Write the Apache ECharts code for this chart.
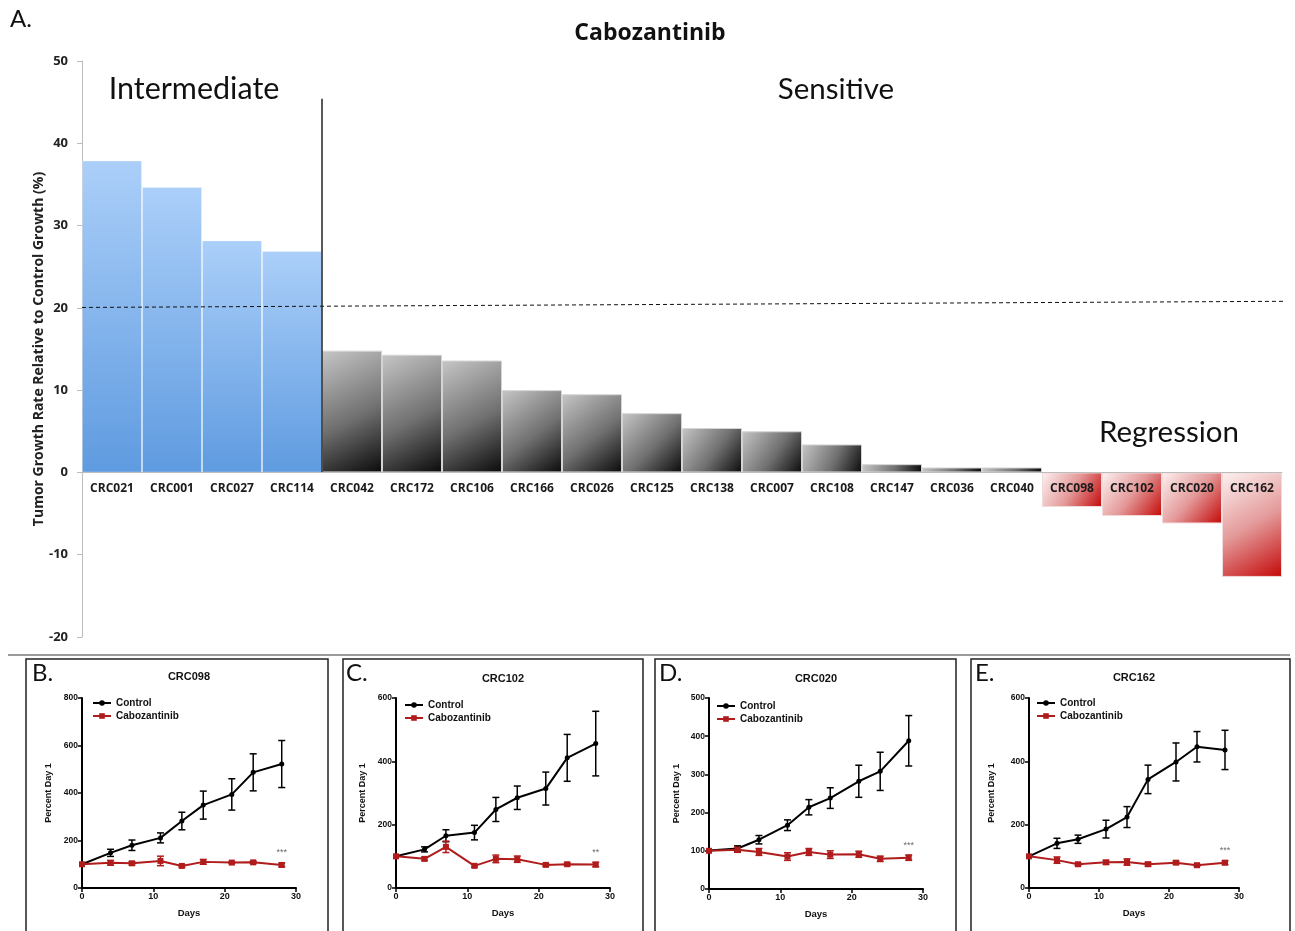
<!DOCTYPE html>
<html><head><meta charset="utf-8">
<script src="https://cdn.jsdelivr.net/npm/echarts@6/dist/echarts.min.js"></script>
<style>html,body{margin:0;padding:0;background:#fff}#c{width:1295px;height:931px}</style>
</head><body><div id="c"></div>
<script>
// ---------- main chart data ----------
const categories = ['CRC021','CRC001','CRC027','CRC114','CRC042','CRC172','CRC106','CRC166','CRC026','CRC125','CRC138','CRC007','CRC108','CRC147','CRC036','CRC040','CRC098','CRC102','CRC020','CRC162'];
const tgrValues = [37.9,34.7,28.2,26.9,14.8,14.3,13.6,10.0,9.5,7.2,5.4,5.0,3.4,1.0,0.6,0.6,-4.2,-5.3,-6.2,-12.7];
const groups = ['Intermediate','Intermediate','Intermediate','Intermediate','Sensitive','Sensitive','Sensitive','Sensitive','Sensitive','Sensitive','Sensitive','Sensitive','Sensitive','Sensitive','Sensitive','Sensitive','Regression','Regression','Regression','Regression'];
const thresholdLine = [[0,20.05],[20.13,20.8]];
const dividerLine = [[4,0],[4,45.4]];
const mainYMin = -20, mainYMax = 50, mainYInterval = 10;

// ---------- small panels data ----------
const days = [0,4,7,11,14,17,21,24,28];
const panelNames = ['CRC098','CRC102','CRC020','CRC162'];
const panelLetters = ['B.','C.','D.','E.'];
const panelYMax = [800,600,500,600];
const panelYInterval = [200,200,100,200];
const panelStars = ['***','**','***','***'];

const controlB = [100,148,180,211,282,349,394,487,522];
const controlErrB = [0,15,22,21,37,59,66,78,99];
const caboB = [100,106,104,114,93,110,107,108,97];
const caboErrB = [0,10,7,20,5,10,4,5,8];

const controlC = [100,122,165,175,248,285,314,411,456];
const controlErrC = [0,8,19,23,38,37,52,74,102];
const caboC = [100,92,130,70,92,91,73,75,74];
const caboErrC = [0,5,18,4,12,10,4,4,7];

const controlD = [101,106,129,167,214,238,282,308,388];
const controlErrD = [0,7,11,14,20,27,42,50,66];
const caboD = [100,103,97,85,97,90,91,79,82];
const caboErrD = [0,7,9,10,9,10,8,7,7];

const controlE = [100,141,154,186,224,343,398,446,436];
const controlErrE = [0,16,13,28,33,45,60,48,62];
const caboE = [100,88,75,81,82,75,80,72,80];
const caboErrE = [0,10,4,6,10,6,5,3,6];

const controls = [controlB, controlC, controlD, controlE];
const controlErrs = [controlErrB, controlErrC, controlErrD, controlErrE];
const cabos = [caboB, caboC, caboD, caboE];
const caboErrs = [caboErrB, caboErrC, caboErrD, caboErrE];

// ---------- layout ----------
const MAINF = 'Lato, "Open Sans", sans-serif';
const BOLDF = '"Open Sans", Lato, sans-serif';
const SMF = '"Liberation Sans", Arial, sans-serif';
const RED = '#b01c1c';
const MAIN_GRID = {left:82, top:61, width:1200, height:576};
const zeroOffset = -(MAIN_GRID.height * (0 - mainYMin) / (mainYMax - mainYMin));
const panelGrids = [
  {left:82, top:698, width:214, height:190, nameGap:29, box:[26,659,302,290], letterX:32, titleX:189, titleY:677, legendX:92, legendY:698},
  {left:396, top:698, width:214, height:190, nameGap:29, box:[343,659,300,290], letterX:346, titleX:503, titleY:679, legendX:404, legendY:700},
  {left:709, top:698, width:214, height:191, nameGap:28, box:[655,659,301,290], letterX:659, titleX:816, titleY:679, legendX:716, legendY:701},
  {left:1029, top:698, width:210, height:190, nameGap:33, box:[971,659,319,290], letterX:975, titleX:1134, titleY:678, legendX:1036, legendY:698}
];

function barColor(g){
  if (g === 'Intermediate') return new echarts.graphic.LinearGradient(0,0,0,1,[{offset:0,color:'#abcff9'},{offset:1,color:'#5f9be0'}]);
  if (g === 'Sensitive') return new echarts.graphic.LinearGradient(0,0,1,1,[{offset:0,color:'#c6c6c6'},{offset:0.55,color:'#707070'},{offset:1,color:'#0a0a0a'}]);
  return new echarts.graphic.LinearGradient(0,0,1,1,[{offset:0,color:'#fdf2f2'},{offset:0.5,color:'#e49a9a'},{offset:1,color:'#c40808'}]);
}
function barBorder(g){
  if (g === 'Intermediate') return 'rgba(255,255,255,0.25)';
  if (g === 'Sensitive') return '#d4d4d4';
  return '#f1dada';
}

const chart = echarts.init(document.getElementById('c'), null, {renderer:'canvas'});

const grid = [MAIN_GRID].concat(panelGrids.map(p=>({left:p.left, top:p.top, width:p.width, height:p.height})));

const xAxis = [
  {type:'category', gridIndex:0, data:categories, z:10, position:'bottom', offset:zeroOffset,
   axisLine:{onZero:false, lineStyle:{color:'#bdbdbd', width:1}}, axisTick:{show:false},
   axisLabel:{interval:0, margin:10, color:'#1a1a1a', fontWeight:'bold', fontSize:12, fontFamily:BOLDF}},
  {type:'value', gridIndex:0, min:0, max:20, show:false, axisLine:{onZero:false}}
];
const yAxis = [
  {type:'value', gridIndex:0, min:mainYMin, max:mainYMax, interval:mainYInterval,
   name:'Tumor Growth Rate Relative to Control Growth (%)', nameLocation:'middle', nameGap:36, nameMoveOverlap:false,
   nameTextStyle:{fontFamily:BOLDF, fontWeight:'bold', fontSize:14, color:'#222'},
   axisLine:{show:true, onZero:false, lineStyle:{color:'#bdbdbd', width:1}}, axisTick:{show:true, length:5, lineStyle:{color:'#bdbdbd'}},
   splitLine:{show:false},
   axisLabel:{color:'#222', fontWeight:'bold', fontSize:13, fontFamily:BOLDF, margin:14}}
];
panelGrids.forEach((p,i)=>{
  xAxis.push({type:'value', gridIndex:i+1, min:0, max:30, interval:10,
    name:'Days', nameLocation:'middle', nameGap:20,
    nameTextStyle:{fontFamily:SMF, fontWeight:'bold', fontSize:9.5, color:'#111'},
    axisLine:{show:true, onZero:false, lineStyle:{color:'#000', width:2}},
    axisTick:{show:true, length:4, lineStyle:{color:'#000', width:1.5}},
    splitLine:{show:false},
    axisLabel:{fontFamily:SMF, fontWeight:'bold', fontSize:9, color:'#111', margin:4}});
  yAxis.push({type:'value', gridIndex:i+1, min:0, max:panelYMax[i], interval:panelYInterval[i],
    name:'Percent Day 1', nameLocation:'middle', nameGap:p.nameGap,
    nameTextStyle:{fontFamily:SMF, fontWeight:'bold', fontSize:9, color:'#111'},
    axisLine:{show:true, onZero:false, lineStyle:{color:'#000', width:2}},
    axisTick:{show:true, length:4, lineStyle:{color:'#000', width:1.5}},
    splitLine:{show:false},
    axisLabel:{fontFamily:SMF, fontWeight:'bold', fontSize:8.5, color:'#111', margin:4}});
});

function errRender(color){
  return function(params, api){
    const x = api.value(0), y = api.value(1), e = api.value(2);
    if (!e) return null;
    const t = api.coord([x, y+e]), b = api.coord([x, y-e]);
    const hw = 3.5;
    const st = {stroke:color, lineWidth:1.5};
    return {type:'group', children:[
      {type:'line', shape:{x1:t[0], y1:t[1], x2:b[0], y2:b[1]}, style:st},
      {type:'line', shape:{x1:t[0]-hw, y1:t[1], x2:t[0]+hw, y2:t[1]}, style:st},
      {type:'line', shape:{x1:b[0]-hw, y1:b[1], x2:b[0]+hw, y2:b[1]}, style:st}
    ]};
  };
}

const series = [
  {type:'bar', name:'TGR', xAxisIndex:0, yAxisIndex:0, barCategoryGap:'0%', barGap:'0%',
   data: tgrValues.map((v,i)=>({value:v, itemStyle:{color:barColor(groups[i]), borderColor:barBorder(groups[i]), borderWidth:1}})),
   emphasis:{disabled:true}},
  {type:'line', name:'threshold', xAxisIndex:1, yAxisIndex:0, data:thresholdLine, symbol:'none', clip:false, z:5,
   lineStyle:{color:'#111', width:1, type:[4,3]}, silent:true},
  {type:'line', name:'divider', xAxisIndex:1, yAxisIndex:0, data:dividerLine, symbol:'none', clip:false, z:5,
   lineStyle:{color:'#222', width:1.5}, silent:true}
];

panelGrids.forEach((p,i)=>{
  const xi = i+2, yi = i+1;
  series.push({type:'custom', name:'ctrlErr'+i, xAxisIndex:xi, yAxisIndex:yi, renderItem:errRender('#000'),
    data: days.map((d,k)=>[d, controls[i][k], controlErrs[i][k]]), encode:{x:0, y:1}, z:3, silent:true});
  series.push({type:'custom', name:'caboErr'+i, xAxisIndex:xi, yAxisIndex:yi, renderItem:errRender(RED),
    data: days.map((d,k)=>[d, cabos[i][k], caboErrs[i][k]]), encode:{x:0, y:1}, z:3, silent:true});
  series.push({type:'line', name:'Control', xAxisIndex:xi, yAxisIndex:yi,
    data: days.map((d,k)=>[d, controls[i][k]]), symbol:'circle', symbolSize:5,
    itemStyle:{color:'#000'}, lineStyle:{color:'#000', width:2}, z:4});
  series.push({type:'line', name:'Cabozantinib', xAxisIndex:xi, yAxisIndex:yi,
    data: days.map((d,k)=>[d, cabos[i][k]]), symbol:'rect', symbolSize:6,
    itemStyle:{color:RED}, lineStyle:{color:RED, width:2}, z:4});
  series.push({type:'scatter', name:'stars'+i, xAxisIndex:xi, yAxisIndex:yi,
    data:[[days[days.length-1], cabos[i][days.length-1]]], symbolSize:0, silent:true,
    label:{show:true, formatter:panelStars[i], position:'top', distance:8, color:'#444', fontSize:9, fontFamily:SMF}});
});

const legend = panelGrids.map(p=>({data:['Control','Cabozantinib'], orient:'vertical', left:p.legendX, top:p.legendY,
  padding:0, itemWidth:18, itemHeight:7, itemGap:3, selectedMode:false,
  textStyle:{fontFamily:SMF, fontWeight:'bold', fontSize:10, color:'#111'}}));

const graphic = [
  {type:'text', x:10, y:19, style:{text:'A.', fontFamily:MAINF, fontSize:24, fill:'#111', align:'left', verticalAlign:'middle'}},
  {type:'text', x:650, y:33, style:{text:'Cabozantinib', fontFamily:BOLDF, fontWeight:'bold', fontSize:23, fill:'#111', align:'center', verticalAlign:'middle'}},
  {type:'text', x:194, y:89, style:{text:'Intermediate', fontFamily:MAINF, fontSize:30.5, fill:'#111', align:'center', verticalAlign:'middle'}},
  {type:'text', x:836, y:89, style:{text:'Sensitive', fontFamily:MAINF, fontSize:29.5, fill:'#111', align:'center', verticalAlign:'middle'}},
  {type:'text', x:1169, y:432, style:{text:'Regression', fontFamily:MAINF, fontSize:29.5, fill:'#111', align:'center', verticalAlign:'middle'}},
  {type:'line', shape:{x1:8, y1:655, x2:1290, y2:655}, style:{stroke:'#9a9a9a', lineWidth:2}}
];
panelGrids.forEach((p,i)=>{
  graphic.push({type:'rect', shape:{x:p.box[0], y:p.box[1], width:p.box[2], height:p.box[3]}, style:{fill:'none', stroke:'#222', lineWidth:1.5}});
  graphic.push({type:'text', x:p.letterX, y:673, style:{text:panelLetters[i], fontFamily:MAINF, fontSize:24, fill:'#111', align:'left', verticalAlign:'middle'}});
  graphic.push({type:'text', x:p.titleX, y:p.titleY, style:{text:panelNames[i], fontFamily:SMF, fontWeight:'bold', fontSize:11, fill:'#111', align:'center', verticalAlign:'middle'}});
});

chart.setOption({
  animation:false,
  backgroundColor:'#fff',
  grid, xAxis, yAxis, series, legend, graphic
});
</script>
</body></html>
